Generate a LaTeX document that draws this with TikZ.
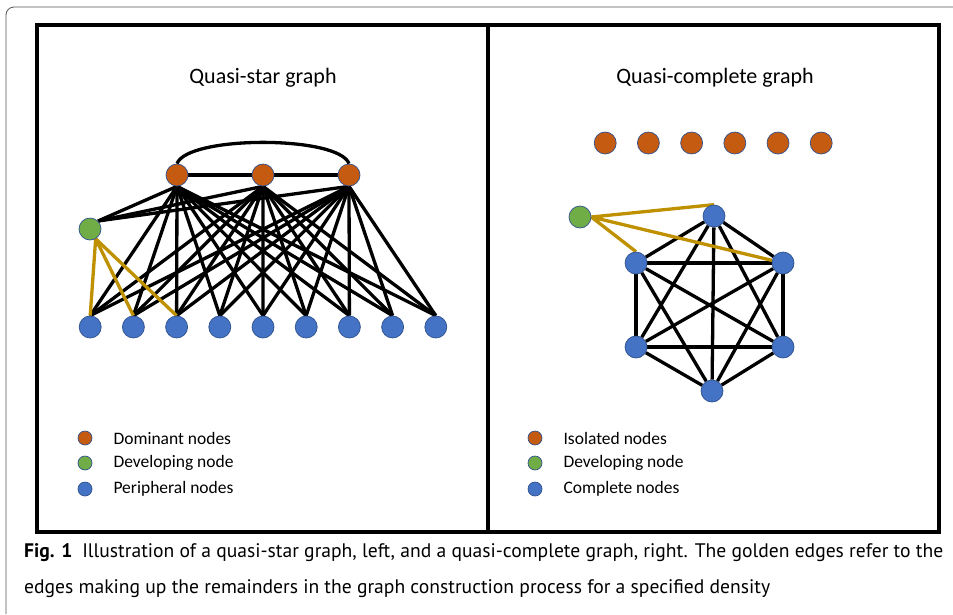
\documentclass[tikz,border=0pt]{standalone}
\usepackage{fontspec}
\setmainfont{Carlito}
\newfontfamily\capfont{PT Sans}
\usetikzlibrary{positioning}
\definecolor{naranja}{HTML}{C55A11}
\definecolor{azul}{HTML}{4472C4}
\definecolor{verde}{HTML}{70AD47}
\definecolor{oro}{HTML}{BF9000}
\definecolor{borde}{HTML}{2F528F}
\definecolor{marco}{HTML}{555555}
\pgfdeclarelayer{bg}
\pgfsetlayers{bg,main}
\tikzset{n/.style={circle,draw=borde,line width=.7pt,fill=#1,minimum size=22pt,inner sep=0},
         lg/.style={circle,draw=borde,line width=.7pt,fill=#1,minimum size=14pt,inner sep=0},
         e/.style={line width=3.3pt,black},
         g/.style={line width=3.3pt,oro},
         t/.style={font=\fontsize{22}{26}\selectfont},
         l/.style={font=\fontsize{17.5}{21}\selectfont,inner sep=0,anchor=west},
         pie/.style={font=\capfont\fontsize{19.6}{23}\selectfont,inner sep=0,anchor=west}}

\begin{document}
\begin{tikzpicture}[x=1pt,y=-1pt]
  \useasboundingbox (0,0) rectangle (953,614);
  \draw[marco,line width=.8pt,rounded corners=8pt] (953,7) -- (6,7) -- (6,614);
  \draw[line width=3.5pt] (37,25) rectangle (939,532);
  \draw[line width=3.5pt] (488,25) -- (488,532);
  \node[t] (tl) at (263,78) {Quasi-star graph};
  \node[t] (tr) at (715,78) {Quasi-complete graph};
  % quasi-star
  \foreach \i/\x in {1/177,2/263,3/349} \node[n=naranja] (d\i) at (\x,175) {};
  \node[n=verde] (v) at (90,229) {};
  \foreach \i in {1,...,9} \node[n=azul] (p\i) at ({47+43.2*\i},327) {};
  \begin{pgfonlayer}{bg}
    \foreach \d in {1,2,3} \foreach \p in {1,...,9} \draw[e] (d\d.south) -- (p\p.north);
    \foreach \d in {1,2,3} \draw[e] (v.north east) -- (d\d.south);
    \draw[e] (d1) -- (d2) (d2) -- (d3);
    \draw[e] (d1.north) to[out=70,in=110,looseness=.45] (d3.north);
    \foreach \p in {1,2,3} \draw[g] (v.-60) -- (p\p.north);
  \end{pgfonlayer}
  % quasi-complete
  \foreach \i in {1,...,6} \node[n=naranja] (s\i) at ({562+43.2*\i},143) {};
  \node[n=verde] (w) at (580,217) {};
  \node[n=azul] (h1) at (714,216) {};
  \node[n=azul] (h2) at (783,263) {};
  \node[n=azul] (h3) at (783,347) {};
  \node[n=azul] (h4) at (712,391) {};
  \node[n=azul] (h5) at (636,347) {};
  \node[n=azul] (h6) at (636,263) {};
  \begin{pgfonlayer}{bg}
    \foreach \a in {1,...,5} {
      \pgfmathtruncatemacro\s{\a+1}
      \foreach \b in {\s,...,6} \draw[e] (h\a) -- (h\b);
    }
    \draw[g] (w.east) -- (h1.north) (w.east) -- (h2) (w.east) -- (h6.north);
  \end{pgfonlayer}
  % legends
  \node[lg=naranja] (k1) at (85,438) {};
  \node[lg=verde] (k2) at (85,463) {};
  \node[lg=azul] (k3) at (85,489) {};
  \node[l,right=21pt of k1] {Dominant nodes};
  \node[l,right=21pt of k2] {Developing node};
  \node[l,right=21pt of k3] {Peripheral nodes};
  \node[lg=naranja] (m1) at (535,438) {};
  \node[lg=verde] (m2) at (535,463) {};
  \node[lg=azul] (m3) at (535,489) {};
  \node[l,right=21pt of m1] {Isolated nodes};
  \node[l,right=21pt of m2] {Developing node};
  \node[l,right=21pt of m3] {Complete nodes};
  % caption
  \node[pie] (c1) at (24,553) {\textbf{Fig. 1}\hspace{.5em}Illustration of a quasi-star graph, left, and a quasi-complete graph, right. The golden edges refer to the};
  \node[pie] (c2) at (24,589) {edges making up the remainders in the graph construction process for a specified density};
\end{tikzpicture}
\end{document}
